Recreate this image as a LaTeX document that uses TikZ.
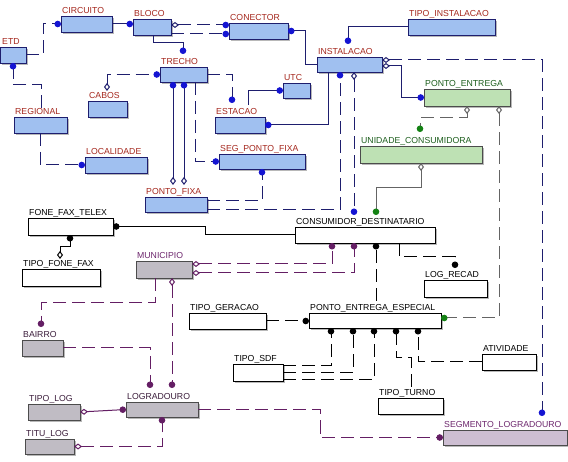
\documentclass[tikz,border=0pt]{standalone}
\usepackage{fontspec}
\setmainfont{Liberation Sans}
\usetikzlibrary{arrows.meta,shadows}

\definecolor{navyline}{RGB}{30,30,110}
\definecolor{dotblue}{RGB}{20,20,210}
\definecolor{bluefill}{RGB}{160,192,240}
\definecolor{redlbl}{RGB}{165,40,30}
\definecolor{greenfill}{RGB}{190,225,180}
\definecolor{greenlbl}{RGB}{30,95,30}
\definecolor{dotgreen}{RGB}{20,130,20}
\definecolor{grayfill}{RGB}{192,188,196}
\definecolor{purpleline}{RGB}{100,30,100}
\definecolor{purplelbl}{RGB}{110,40,110}
\definecolor{darklbl}{RGB}{60,30,60}
\definecolor{pinkfill}{RGB}{205,190,210}
\definecolor{grayline}{RGB}{100,100,100}

\tikzset{
  dotb/.tip={Circle[length=6.5pt,color=dotblue]},
  dotk/.tip={Circle[length=6.5pt,color=black]},
  dotp/.tip={Circle[length=6.5pt,color=purpleline]},
  dotg/.tip={Circle[length=6.5pt,color=dotgreen]},
  dia/.tip={Diamond[length=8pt,width=6pt,fill=white]}
}

\begin{document}
\begin{tikzpicture}[x=1pt,y=-1pt,
  ent/.style={draw,line width=0.9pt,inner sep=0pt,outer sep=0pt,anchor=north west,
    drop shadow={shadow xshift=2pt,shadow yshift=-2pt,fill=black!55}},
  bluebox/.style={ent,draw=navyline,fill=bluefill},
  greenbox/.style={ent,draw=black!70,fill=greenfill},
  graybox/.style={ent,draw=black!70,fill=grayfill},
  pinkbox/.style={ent,draw=black!70,fill=pinkfill},
  whitebox/.style={ent,draw=black,fill=white},
  lbl/.style={anchor=base west,inner sep=0pt,font=\fontsize{8.7}{10}\selectfont},
  bluelbl/.style={lbl,text=redlbl},
  greenlbl/.style={lbl,text=greenlbl},
  purplbl/.style={lbl,text=purplelbl},
  darkl/.style={lbl,text=darklbl},
  blacklbl/.style={lbl,text=black},
  brk/.style={dash pattern=on 13pt off 6pt},
  navyrel/.style={draw=navyline,line width=1pt},
  grayrel/.style={draw=grayline,line width=1pt},
  blackrel/.style={draw=black,line width=1pt},
  purplerel/.style={draw=purpleline,line width=1pt}]
				\fill[white] (0,0) rectangle (568,462);
				\useasboundingbox (0,0) rectangle (568,462);
				
				% blue entities
				\node[bluebox,minimum width=26pt,minimum height=16pt] (etd) at (0,47) {};
				\node[bluebox,minimum width=51pt,minimum height=16pt] (circ) at (61,16) {};
				\node[bluebox,minimum width=38pt,minimum height=16pt] (bloco) at (133,19) {};
				\node[bluebox,minimum width=59pt,minimum height=16pt] (con) at (229,23) {};
				\node[bluebox,minimum width=87pt,minimum height=16pt] (ti) at (408,19) {};
				\node[bluebox,minimum width=65pt,minimum height=15pt] (inst) at (317,57) {};
				\node[bluebox,minimum width=47pt,minimum height=15pt] (trecho) at (160,67) {};
				\node[bluebox,minimum width=39pt,minimum height=16pt] (cabos) at (88,101) {};
				\node[bluebox,minimum width=27pt,minimum height=15pt] (utc) at (283,83) {};
				\node[bluebox,minimum width=50pt,minimum height=16pt] (est) at (215,117) {};
				\node[bluebox,minimum width=53pt,minimum height=16pt] (reg) at (14,117) {};
				\node[bluebox,minimum width=62pt,minimum height=16pt] (loc) at (85,157) {};
				\node[bluebox,minimum width=86pt,minimum height=15pt] (spf) at (219,154) {};
				\node[bluebox,minimum width=62pt,minimum height=15pt] (pf) at (145,197) {};
				
				\node[bluelbl] (etdl) at ([xshift=2pt,yshift=2.5pt]etd.north west) {ETD};
				\node[bluelbl] (circl) at ([xshift=1pt,yshift=2.5pt]circ.north west) {CIRCUITO};
				\node[bluelbl] (blocol) at ([xshift=1pt,yshift=2.5pt]bloco.north west) {BLOCO};
				\node[bluelbl] (conl) at ([xshift=1pt,yshift=2.5pt]con.north west) {CONECTOR};
				\node[bluelbl] (til) at ([xshift=1pt,yshift=2.5pt]ti.north west) {TIPO\_INSTALACAO};
				\node[bluelbl] (instl) at ([xshift=1pt,yshift=2.5pt]inst.north west) {INSTALACAO};
				\node[bluelbl] (trechol) at ([xshift=1pt,yshift=2.5pt]trecho.north west) {TRECHO};
				\node[bluelbl] (cabosl) at ([xshift=1pt,yshift=2.5pt]cabos.north west) {CABOS};
				\node[bluelbl] (utcl) at ([xshift=1pt,yshift=2.5pt]utc.north west) {UTC};
				\node[bluelbl] (estl) at ([xshift=1pt,yshift=2.5pt]est.north west) {ESTACAO};
				\node[bluelbl] (regl) at ([xshift=1pt,yshift=2.5pt]reg.north west) {REGIONAL};
				\node[bluelbl] (locl) at ([xshift=1pt,yshift=2.5pt]loc.north west) {LOCALIDADE};
				\node[bluelbl] (spfl) at ([xshift=1pt,yshift=2.5pt]spf.north west) {SEG\_PONTO\_FIXA};
				\node[bluelbl] (pfl) at ([xshift=1pt,yshift=2.5pt]pf.north west) {PONTO\_FIXA};
				
				% green entities
				\node[greenbox,minimum width=86pt,minimum height=17pt] (pe) at (424,89) {};
				\node[greenbox,minimum width=122pt,minimum height=17pt] (uc) at (360,146) {};
				\node[greenlbl] (pel) at ([xshift=1pt,yshift=2.5pt]pe.north west) {PONTO\_ENTREGA};
				\node[greenlbl] (ucl) at ([xshift=1pt,yshift=2.5pt]uc.north west) {UNIDADE\_CONSUMIDORA};
				
				% white entities
				\node[whitebox,minimum width=85pt,minimum height=17pt] (fft) at (28,218) {};
				\node[whitebox,minimum width=78pt,minimum height=17pt] (tff) at (22,269) {};
				\node[whitebox,minimum width=140pt,minimum height=16pt] (cd) at (295,227) {};
				\node[whitebox,minimum width=63pt,minimum height=17pt] (lr) at (424,280) {};
				\node[whitebox,minimum width=77pt,minimum height=16pt] (tg) at (189,313) {};
				\node[whitebox,minimum width=132pt,minimum height=15pt] (pee) at (309,313) {};
				\node[whitebox,minimum width=50pt,minimum height=17pt] (tsdf) at (233,364) {};
				\node[whitebox,minimum width=54pt,minimum height=16pt] (atv) at (482,354) {};
				\node[whitebox,minimum width=65pt,minimum height=16pt] (tt) at (378,398) {};
				
				\node[blacklbl] (fftl) at ([xshift=1pt,yshift=2.5pt]fft.north west) {FONE\_FAX\_TELEX};
				\node[blacklbl] (tffl) at ([xshift=1pt,yshift=2.5pt]tff.north west) {TIPO\_FONE\_FAX};
				\node[blacklbl] (cdl) at ([xshift=1pt,yshift=2.5pt]cd.north west) {CONSUMIDOR\_DESTINATARIO};
				\node[blacklbl] (lrl) at ([xshift=1pt,yshift=2.5pt]lr.north west) {LOG\_RECAD};
				\node[blacklbl] (tgl) at ([xshift=1pt,yshift=2.5pt]tg.north west) {TIPO\_GERACAO};
				\node[blacklbl] (peel) at ([xshift=1pt,yshift=2.5pt]pee.north west) {PONTO\_ENTREGA\_ESPECIAL};
				\node[blacklbl] (tsdfl) at ([xshift=1pt,yshift=2.5pt]tsdf.north west) {TIPO\_SDF};
				\node[blacklbl] (atvl) at ([xshift=1pt,yshift=2.5pt]atv.north west) {ATIVIDADE};
				\node[blacklbl] (ttl) at ([xshift=1pt,yshift=2.5pt]tt.north west) {TIPO\_TURNO};
				
				% gray entities
				\node[graybox,minimum width=56pt,minimum height=17pt] (mun) at (136,261) {};
				\node[graybox,minimum width=41pt,minimum height=16pt] (bairro) at (22,340) {};
				\node[graybox,minimum width=72pt,minimum height=15pt] (log) at (126,402) {};
				\node[graybox,minimum width=52pt,minimum height=16pt] (tl) at (28,404) {};
				\node[graybox,minimum width=49pt,minimum height=15pt] (titu) at (25,439) {};
				\node[pinkbox,minimum width=124pt,minimum height=15pt] (sl) at (443,430) {};
				
				\node[purplbl] (munl) at ([xshift=1pt,yshift=2.5pt]mun.north west) {MUNICIPIO};
				\node[darkl] (bairrol) at ([xshift=1pt,yshift=2.5pt]bairro.north west) {BAIRRO};
				\node[darkl] (logl) at ([xshift=1pt,yshift=2.5pt]log.north west) {LOGRADOURO};
				\node[darkl] (tll) at ([xshift=1pt,yshift=2.5pt]tl.north west) {TIPO\_LOG};
				\node[darkl] (titul) at ([xshift=1pt,yshift=2.5pt]titu.north west) {TITU\_LOG};
				\node[purplbl] (sll) at ([xshift=1pt,yshift=2.5pt]sl.north west) {SEGMENTO\_LOGRADOURO};
				
				% navy relationships
				\draw[navyrel,brk,-dotb] (etd.east) -- ++(17,0) |- (circ.west);
				\draw[navyrel,brk,-dotb] ([xshift=27pt,yshift=9pt]reg.north west) -- ++(0,-23) -| ([xshift=13pt]etd.south west);
				\draw[navyrel,brk,-dotb] ([xshift=26pt]reg.south west) |- (loc.west);
				\draw[navyrel,-dotb] (circ.east) -- ([yshift=-5pt]bloco.north west);
				\draw[navyrel,brk,dia-dotb] ([yshift=-6pt]bloco.north east) -- ([yshift=-2pt]con.north west);
				\draw[navyrel,brk,-dotb] ([yshift=-15pt]bloco.north east) -- ([yshift=-11pt]con.north west);
				\draw[navyrel,-dotb] ([xshift=20pt]bloco.south west) -- ++(0,8) -| ([xshift=23pt,yshift=13pt]trecho.north west);
				\draw[navyrel,-dotb] (inst.west) -- ++(-12,0) |- (con.east);
				\draw[navyrel,-dotb] (ti.west) -| ([xshift=31pt,yshift=13pt]inst.north west);
				\draw[navyrel,brk,-dotb] (trecho.east) -| ([xshift=17pt,yshift=14pt]est.north west);
				\draw[navyrel,brk,dia-dotb] ([xshift=19pt,yshift=10pt]cabos.north west) |- (trecho.west);
				\draw[navyrel,dia-dotb] ([xshift=28pt,yshift=12pt]pf.north west) -- ([xshift=13pt]trecho.south west);
				\draw[navyrel,dia-dotb] ([xshift=39pt,yshift=12pt]pf.north west) -- ([xshift=24pt]trecho.south west);
				\draw[navyrel,brk,-dotb] ([xshift=35pt]trecho.south west) |- (spf.west);
				\draw[navyrel,brk,-dotb] ([yshift=-4pt]pf.north east) -| ([xshift=43pt]spf.south west);
				\draw[navyrel,brk,-dotb] ([yshift=-13pt]pf.north east) -| ([xshift=23pt]inst.south west);
				\draw[navyrel,brk,dia-dotb] ([xshift=37pt]inst.south west) -- ([xshift=59pt,yshift=12pt]cd.north west);
				\draw[navyrel,-dotb] ([xshift=11pt]inst.south west) |- (est.east);
				\draw[navyrel,-dotb] ([xshift=33pt,yshift=12pt]est.north west) |- (utc.west);
				\draw[navyrel,brk,dia-dotb] ([yshift=-3pt]inst.north east) -| ([xshift=99pt,yshift=14pt]sl.north west);
				\draw[navyrel,dia-dotb] ([yshift=-9pt]inst.north east) -- ++(19,0) |- (pe.west);
				
				% gray relationships
				\draw[grayrel,brk,dia-dotg] ([xshift=43pt]pe.south west) -- ++(0,12) -| ([xshift=60pt,yshift=14pt]uc.north west);
				\draw[grayrel,brk,dia-dotg] ([xshift=75pt]pe.south west) |- ([yshift=-5pt]pee.north east);
				\draw[grayrel,dia-dotg] ([xshift=61pt]uc.south west) -- ++(0,25) -| ([xshift=81pt,yshift=12pt]cd.north west);
				
				% black relationships
				\draw[blackrel,-dotk] (cd.west) -- ++(-90,0) |- (fft.east);
				\draw[blackrel,dia-dotk] ([xshift=38pt,yshift=10pt]tff.north west) -- ++(0,-12) -| ([xshift=42pt]fft.south west);
				\draw[blackrel,brk,-dotk] ([xshift=104pt]cd.south west) -- ++(0,14) -| ([xshift=31pt,yshift=12pt]lr.north west);
				\draw[blackrel,brk,-dotk] ([xshift=67pt,yshift=12pt]pee.north west) -- ([xshift=81pt]cd.south west);
				\draw[blackrel,brk,-dotk] (tg.east) -- ([yshift=-8pt]pee.north west);
				\draw[blackrel,brk,-dotk] ([yshift=-2pt]tsdf.north east) -| ([xshift=22pt]pee.south west);
				\draw[blackrel,brk,-dotk] ([yshift=-9pt]tsdf.north east) -| ([xshift=44pt]pee.south west);
				\draw[blackrel,brk,-dotk] ([yshift=-16pt]tsdf.north east) -| ([xshift=65pt]pee.south west);
				\draw[blackrel,brk,-dotk] ([xshift=33pt,yshift=11pt]tt.north west) -- ++(0,-29) -| ([xshift=87pt]pee.south west);
				\draw[blackrel,brk,-dotk] (atv.west) -| ([xshift=109pt]pee.south west);
				
				% purple relationships
				\draw[purplerel,brk,dia-dotp] ([yshift=-3pt]mun.north east) -| ([xshift=37pt]cd.south west);
				\draw[purplerel,brk,dia-dotp] ([yshift=-12pt]mun.north east) -| ([xshift=59pt]cd.south west);
				\draw[purplerel,brk,-dotp] ([xshift=19pt]mun.south west) -- ++(0,25) -| ([xshift=19pt,yshift=13pt]bairro.north west);
				\draw[purplerel,brk,dia-dotp] ([xshift=36pt]mun.south west) -- ([xshift=46pt,yshift=14pt]log.north west);
				\draw[purplerel,brk,-dotp] (bairro.east) -| ([xshift=24pt,yshift=14pt]log.north west);
				\draw[purplerel,dia-dotp] (tl.east) -- ([yshift=-7.5pt]log.north west);
				\draw[purplerel,brk,dia-dotp] (titu.east) -| ([xshift=36pt]log.south west);
				\draw[purplerel,brk,-dotp] (log.east) -- ++(122,0) |- (sl.west);
			\end{tikzpicture}
\end{document}
